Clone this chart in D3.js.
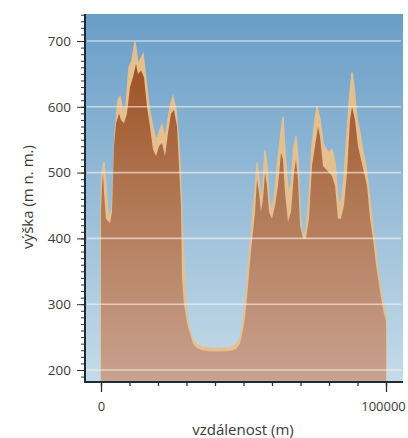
<!DOCTYPE html>
<html><head><meta charset="utf-8">
<script src="https://cdn.jsdelivr.net/npm/d3@7"></script>
<style>body{margin:0;background:#fff}svg{display:block}text{font-family:"Open Sans",sans-serif;fill:#3a3a3a}</style>
</head><body><svg id="c" width="408" height="438"></svg>
<script>
// distance (m) and elevation (m n. m.) – darker inner profile
const distLower = [0,350,700,1050,1750,3160,3860,4560,5260,6320,7020,8070,9120,10180,11230,12280,12980,14040,15090,16140,17190,18250,19300,20350,21400,22460,23510,24560,25610,26670,27370,28070,28420,29120,29830,30530,31230,32280,33690,35790,38250,41760,45260,47370,48770,49830,50530,51230,51930,52630,53340,54040,54740,55440,56140,56850,57550,58250,58950,60000,61060,62110,63160,63860,64560,65620,66670,67720,68420,69120,69830,70880,71930,72980,74040,75090,76140,76840,77900,78950,80000,81050,82110,83160,84210,85260,86320,87370,88070,89130,90180,91230,92280,93330,94390,95440,96490,97540,98600,99300,100000];
const elevLower = [440,480,500,470,430,423,440,540,575,590,580,575,590,630,645,665,650,655,645,600,570,535,525,540,545,525,560,590,595,570,510,450,340,300,280,265,255,240,233,230,228,228,229,232,240,260,280,310,345,380,410,440,490,470,440,460,500,480,440,430,450,480,530,520,470,425,440,500,520,490,420,400,400,430,510,540,570,555,510,505,500,495,480,430,430,450,500,580,600,580,540,520,500,480,430,400,360,330,300,285,275];
// lighter outer profile
const distUpper = [0,350,1050,1750,2460,3510,4210,4910,5970,6670,7720,8770,9830,10880,11930,12980,13690,14740,15790,16840,17900,18950,19650,20700,21400,22460,23510,24560,25260,26320,27020,27720,28420,29120,29830,30530,31230,32280,33690,35790,38250,41760,45260,47370,48770,49830,50530,51230,51930,52630,53340,54040,54740,55440,56140,56850,57550,58250,58950,60000,61060,62110,63160,63860,64560,65620,66670,67720,68420,69120,69830,70530,71930,72980,74040,75090,75790,76840,77900,78950,80000,81050,82110,83160,84210,85260,86320,87370,88070,88770,89830,90880,91930,92980,94040,95090,96140,97190,98250,99300,100000];
const elevUpper = [450,500,516,480,440,430,470,560,610,615,595,600,660,670,698,665,670,680,640,600,575,555,550,565,572,552,580,605,615,595,560,510,430,360,300,272,260,246,238,235,233,233,234,238,248,270,300,330,370,400,440,470,515,490,450,480,534,510,460,440,470,520,560,585,530,470,480,540,555,520,440,405,410,460,540,580,600,580,545,535,530,535,515,460,450,490,560,620,652,630,580,560,530,510,470,430,390,350,320,295,280];
const yTickValues = [200,300,400,500,600,700];
const xTickValues = [0,100000];
const xTitle = "vzdálenost (m)";
const yTitle = "výška (m n. m.)";

const svg = d3.select("#c");
const L=85, R=403, T=14, B=382;
const x = d3.scaleLinear().domain([0,100000]).range([101,386]);
const y = d3.scaleLinear().domain([200,700]).range([370,41]);

const defs = svg.append("defs");
const bg = defs.append("linearGradient").attr("id","bg").attr("x1",0).attr("x2",0).attr("y1",0).attr("y2",1);
bg.append("stop").attr("offset","0%").attr("stop-color","#6a9ec7");
bg.append("stop").attr("offset","100%").attr("stop-color","#c5dbe9");
const br = defs.append("linearGradient").attr("id","br").attr("gradientUnits","userSpaceOnUse").attr("x1",0).attr("x2",0).attr("y1",40).attr("y2",B);
br.append("stop").attr("offset","0%").attr("stop-color","#9b4a1c");
br.append("stop").attr("offset","45%").attr("stop-color","#b07652");
br.append("stop").attr("offset","100%").attr("stop-color","#c9a290");

svg.append("rect").attr("x",L).attr("y",T).attr("width",R-L).attr("height",B-T).attr("fill","url(#bg)");

const upper = distUpper.map((d,i)=>[d,elevUpper[i]]);
const lower = distLower.map((d,i)=>[d,elevLower[i]]);
const area = d3.area().x(d=>x(d[0])).y0(B).y1(d=>y(d[1]));
svg.append("path").attr("d",area(upper)).attr("fill","#e5c08e").attr("stroke","#e5c08e").attr("stroke-width",1.5);
svg.append("path").attr("d",area(lower)).attr("fill","url(#br)");

// grid
svg.append("g").selectAll("line").data(yTickValues).join("line")
  .attr("x1",L+2).attr("x2",R-2).attr("y1",d=>y(d)).attr("y2",d=>y(d))
  .attr("stroke","rgba(255,245,235,0.6)").attr("stroke-width",1.6);

// y axis
const yMinor = d3.range(190,741,10);
const gy = svg.append("g").attr("transform",`translate(${L},0)`);
gy.call(d3.axisLeft(y).tickValues(yMinor).tickSize(4).tickFormat(""));
const gy2 = svg.append("g").attr("transform",`translate(${L},0)`);
gy2.call(d3.axisLeft(y).tickValues(yTickValues).tickSize(8).tickPadding(6));
[gy,gy2].forEach(g=>{g.select(".domain").remove();g.selectAll("line").attr("stroke","#333");});
gy2.selectAll("text").attr("font-size",13.5).attr("fill","#3a3a3a").attr("font-family","Open Sans");
svg.append("line").attr("x1",L).attr("x2",L).attr("y1",T).attr("y2",B+1).attr("stroke","#1e2a36").attr("stroke-width",2);

// x axis
const gx = svg.append("g").attr("transform",`translate(0,${B})`);
gx.call(d3.axisBottom(x).tickValues(d3.range(0,100001,10000)).tickSize(4).tickFormat(""));
const gx2 = svg.append("g").attr("transform",`translate(0,${B})`);
gx2.call(d3.axisBottom(x).tickValues(xTickValues).tickSize(10).tickPadding(10).tickFormat(d3.format("d")));
[gx,gx2].forEach(g=>{g.select(".domain").remove();g.selectAll("line").attr("stroke","#333").attr("stroke-width",1.3);});
gx2.selectAll("text").attr("font-size",13).attr("fill","#3a3a3a").attr("font-family","Open Sans")
  .attr("dx",d=>d===100000?-3:0);
svg.append("line").attr("x1",L-1).attr("x2",R).attr("y1",B).attr("y2",B).attr("stroke","#1e2a36").attr("stroke-width",2);

svg.append("text").attr("x",243).attr("y",435).attr("text-anchor","middle").attr("font-size",15).text(xTitle);
svg.append("text").attr("transform","translate(33,197) rotate(-90)").attr("text-anchor","middle").attr("font-size",15).text(yTitle);
</script></body></html>
